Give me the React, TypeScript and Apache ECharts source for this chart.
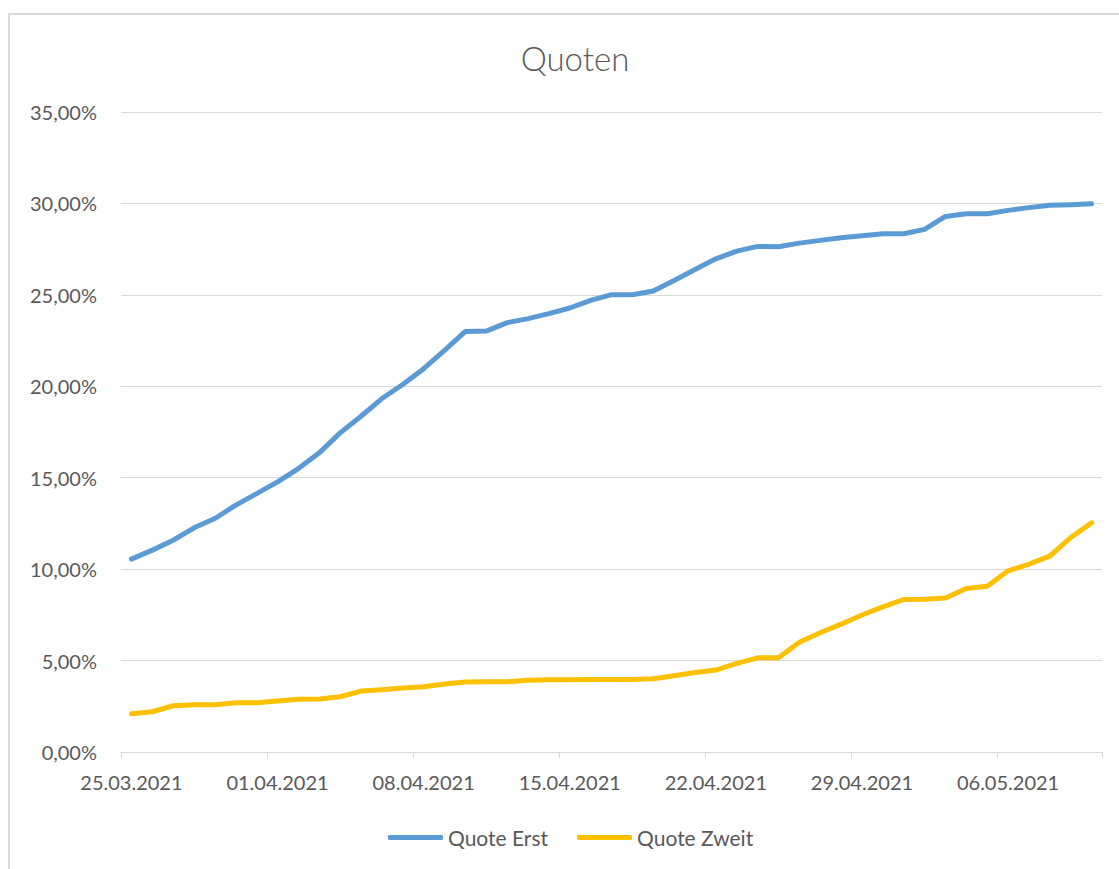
import React, { useEffect, useRef } from "react";
import * as echarts from "echarts";

const dates: string[] = [
  "25.03.2021", "26.03.2021", "27.03.2021", "28.03.2021", "29.03.2021", "30.03.2021", "31.03.2021",
  "01.04.2021", "02.04.2021", "03.04.2021", "04.04.2021", "05.04.2021", "06.04.2021", "07.04.2021",
  "08.04.2021", "09.04.2021", "10.04.2021", "11.04.2021", "12.04.2021", "13.04.2021", "14.04.2021",
  "15.04.2021", "16.04.2021", "17.04.2021", "18.04.2021", "19.04.2021", "20.04.2021", "21.04.2021",
  "22.04.2021", "23.04.2021", "24.04.2021", "25.04.2021", "26.04.2021", "27.04.2021", "28.04.2021",
  "29.04.2021", "30.04.2021", "01.05.2021", "02.05.2021", "03.05.2021", "04.05.2021", "05.05.2021",
  "06.05.2021", "07.05.2021", "08.05.2021", "09.05.2021", "10.05.2021",
];

// values in percent
const quoteErst: number[] = [
  10.55, 11.04, 11.58, 12.26, 12.77, 13.5, 14.13, 14.77, 15.5, 16.36,
  17.45, 18.36, 19.33, 20.1, 20.96, 21.97, 23.0, 23.02, 23.48, 23.7,
  23.97, 24.28, 24.7, 25.01, 25.01, 25.21, 25.79, 26.39, 26.97, 27.39,
  27.65, 27.63, 27.83, 27.98, 28.12, 28.23, 28.34, 28.34, 28.58, 29.29,
  29.44, 29.44, 29.62, 29.77, 29.9, 29.93, 29.98,
];

const quoteZweit: number[] = [
  2.09, 2.2, 2.53, 2.58, 2.58, 2.69, 2.69, 2.79, 2.88, 2.9,
  3.02, 3.33, 3.41, 3.5, 3.57, 3.72, 3.83, 3.84, 3.84, 3.93,
  3.95, 3.95, 3.97, 3.97, 3.97, 4.01, 4.17, 4.35, 4.48, 4.85,
  5.15, 5.15, 6.0, 6.52, 6.99, 7.49, 7.94, 8.34, 8.36, 8.42,
  8.94, 9.07, 9.91, 10.27, 10.71, 11.73, 12.53,
];

const seriesNames: string[] = ["Quote Erst", "Quote Zweit"];
const yTicks = { min: 0, max: 35, interval: 5 };

const FONT = "Lato, 'Noto Sans', sans-serif";
const TEXT = "#595959";
const GRID = "#d9d9d9";

export default function App() {
  const ref = useRef<HTMLDivElement>(null);

  useEffect(() => {
    document.body.style.overflow = "hidden";
    if (!ref.current) return;
    const chart = echarts.init(ref.current, undefined, { renderer: "svg" });
    chart.setOption({
      animation: false,
      backgroundColor: "transparent",
      title: {
        text: "Quoten",
        left: 570,
        top: 36,
        textAlign: "center",
        textStyle: { fontFamily: FONT, fontSize: 33, fontWeight: 300, color: TEXT },
      },
      legend: {
        data: seriesNames,
        left: 383,
        top: 822,
        itemWidth: 55,
        itemHeight: 5,
        itemGap: 29,
        icon: "roundRect",
        textStyle: { fontFamily: FONT, fontSize: 21, color: TEXT },
      },
      grid: { left: 121, top: 112, right: 17, bottom: 117, containLabel: false },
      xAxis: {
        type: "category",
        data: dates,
        boundaryGap: true,
        axisLine: { lineStyle: { color: GRID, width: 1 } },
        axisTick: { show: true, interval: 6, length: 6, lineStyle: { color: GRID } },
        axisLabel: { interval: 6, margin: 20, fontFamily: FONT, fontSize: 20, color: TEXT },
        splitLine: { show: false },
      },
      yAxis: {
        type: "value",
        min: yTicks.min,
        max: yTicks.max,
        interval: yTicks.interval,
        axisLine: { show: false },
        axisTick: { show: false },
        axisLabel: {
          margin: 24,
          fontFamily: FONT,
          fontSize: 20,
          color: TEXT,
          formatter: (v: number) => v.toFixed(2).replace(".", ",") + "%",
        },
        splitLine: { lineStyle: { color: GRID, width: 1 } },
      },
      series: [
        {
          name: seriesNames[0],
          type: "line",
          data: quoteErst,
          symbol: "none",
          lineStyle: { color: "#5B9BD5", width: 5, cap: "round", join: "round" },
          itemStyle: { color: "#5B9BD5" },
        },
        {
          name: seriesNames[1],
          type: "line",
          data: quoteZweit,
          symbol: "none",
          lineStyle: { color: "#FFC000", width: 5, cap: "round", join: "round" },
          itemStyle: { color: "#FFC000" },
        },
      ],
    });
    return () => chart.dispose();
  }, []);

  return (
    <div>
      <div
        style={{
          position: "absolute",
          left: 8,
          top: 13,
          width: 1111,
          height: 856,
          boxSizing: "border-box",
          borderLeft: "2px solid #d9d9d9",
          borderTop: "2px solid #d9d9d9",
        }}
      />
      <div
        ref={ref}
        style={{ position: "absolute", left: 0, top: 0, width: 1119, height: 869 }}
      />
    </div>
  );
}
